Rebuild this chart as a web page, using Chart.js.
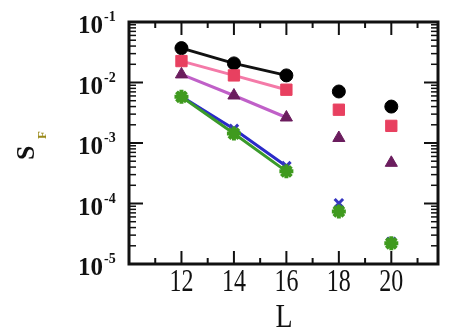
<!DOCTYPE html>
<html>
<head>
<meta charset="utf-8">
<script src="https://cdn.jsdelivr.net/npm/chart.js"></script>
<style>
  html, body { margin: 0; padding: 0; background: #fff; }
  #wrap { width: 449px; height: 332px; }
</style>
</head>
<body>
<div id="wrap"><canvas id="sfChart" width="449" height="332"></canvas></div>
<script>
  // system sizes L
  const sizes = [12, 14, 16, 18, 20];
  // S_F values, one list per series
  const sBlack = [0.037, 0.0207, 0.0131, 0.0071, 0.0040];
  const sRed = [0.0226, 0.0131, 0.0076, 0.00355, 0.00192];
  const sPurple = [0.0136, 0.0061, 0.00264, 0.00121, 0.00047];
  const sBlue = [0.00585, 0.00171, 0.000414, 0.000101, 0.0000233];
  const sGreen = [0.0058, 0.00143, 0.00034, 0.000074, 0.000022];
  // axis ticks
  const xMajor = [12, 14, 16, 18, 20];
  const xMinor = [11, 13, 15, 17, 19, 21];
  const yExp = [-1, -2, -3, -4, -5];

  const toPts = (vals) => vals.map((v, i) => ({ x: sizes[i], y: v }));

  // fit lines only run over the first three sizes
  function fitSegment(color) {
    return (ctx) => (ctx.p0DataIndex < 2 ? color : "transparent");
  }

  function series(vals, mark, markColor, lineColor, style, radius, order) {
    return {
      data: toPts(vals),
      showLine: true,
      pointStyle: style,
      pointRadius: radius,
      pointBackgroundColor: markColor,
      pointBorderColor: markColor,
      pointBorderWidth: mark,
      borderWidth: 3,
      borderColor: lineColor,
      segment: { borderColor: fitSegment(lineColor) },
      order: order,
    };
  }

  const frame = {
    id: "frame",
    afterDraw(chart) {
      const { ctx, chartArea: a, scales } = chart;
      const xs = scales.x, ys = scales.y;
      ctx.save();
      ctx.strokeStyle = "#111";
      ctx.fillStyle = "#111";

      // ticks, pointing inward on all four sides
      ctx.lineWidth = 2;
      const tick = (x1, y1, x2, y2) => {
        ctx.beginPath(); ctx.moveTo(x1, y1); ctx.lineTo(x2, y2); ctx.stroke();
      };
      xMajor.forEach((v) => {
        const px = xs.getPixelForValue(v);
        tick(px, a.bottom, px, a.bottom - 13);
        tick(px, a.top, px, a.top + 13);
      });
      xMinor.forEach((v) => {
        const px = xs.getPixelForValue(v);
        tick(px, a.bottom, px, a.bottom - 6);
        tick(px, a.top, px, a.top + 6);
      });
      yExp.forEach((e) => {
        const base = Math.pow(10, e);
        const py = ys.getPixelForValue(base);
        tick(a.left, py, a.left + 14, py);
        tick(a.right, py, a.right - 14, py);
        if (e > -1) return;
        for (let m = 2; m <= 9; m++) {
          const v = base * m;
          if (v > 0.1) break;
          const q = ys.getPixelForValue(v);
          ctx.lineWidth = 1.5;
          tick(a.left, q, a.left + 7, q);
          tick(a.right, q, a.right - 7, q);
          ctx.lineWidth = 2;
        }
      });

      // frame
      ctx.lineWidth = 3;
      ctx.strokeRect(a.left, a.top, a.right - a.left, a.bottom - a.top);

      // y tick labels 10^e
      yExp.forEach((e) => {
        const py = ys.getPixelForValue(Math.pow(10, e));
        ctx.textAlign = "right";
        ctx.textBaseline = "alphabetic";
        ctx.font = "bold 25px 'Liberation Serif'";
        ctx.fillText("10", 103, py + 11);
        ctx.textAlign = "left";
        ctx.font = "bold 14px 'Liberation Serif'";
        ctx.fillText("-" + (-e), 104, py - 1);
      });

      // x tick labels, slightly tall
      ctx.font = "24px 'Liberation Serif'";
      ctx.textAlign = "center";
      xMajor.forEach((v) => {
        const px = xs.getPixelForValue(v);
        ctx.save();
        ctx.translate(px, a.bottom + 27);
        ctx.scale(1, 1.3);
        ctx.fillText(String(v), 0, 0);
        ctx.restore();
      });

      // axis titles
      ctx.save();
      ctx.translate(284, 327);
      ctx.scale(1, 1.2);
      ctx.font = "28px 'Liberation Serif'";
      ctx.fillText("L", 0, 0);
      ctx.restore();

      ctx.save();
      ctx.translate(34, 160);
      ctx.rotate(-Math.PI / 2);
      ctx.textAlign = "left";
      ctx.font = "bold 26px 'Liberation Serif'";
      ctx.fillText("S", 0, 0);
      ctx.fillStyle = "#9a8a1a";
      ctx.font = "bold 13px 'Liberation Serif'";
      ctx.fillText("F", 21, 12);
      ctx.restore();

      ctx.restore();
    },
  };

  new Chart(document.getElementById("sfChart"), {
    type: "scatter",
    data: {
      datasets: [
        series(sGreen, 4, "#3f9a1e", "#3a9a2a", "star", 7, 1),
        series(sBlue, 3, "#3535c0", "#2a2ac8", "crossRot", 6, 2),
        series(sPurple, 1, "#6b1d5e", "#c060c8", "triangle", 7, 3),
        series(sRed, 1, "#e84060", "#f47aa8", "rect", 8, 4),
        series(sBlack, 1, "#000000", "#111111", "circle", 6.5, 5),
      ],
    },
    options: {
      responsive: false,
      animation: false,
      layout: { padding: { left: 129, right: 2, top: 22, bottom: 68 } },
      plugins: { legend: { display: false }, tooltip: { enabled: false } },
      scales: {
        x: { type: "linear", min: 10, max: 21.78, display: false },
        y: { type: "logarithmic", min: 1e-5, max: 1e-1, display: false },
      },
    },
    plugins: [frame],
  });
</script>
</body>
</html>
